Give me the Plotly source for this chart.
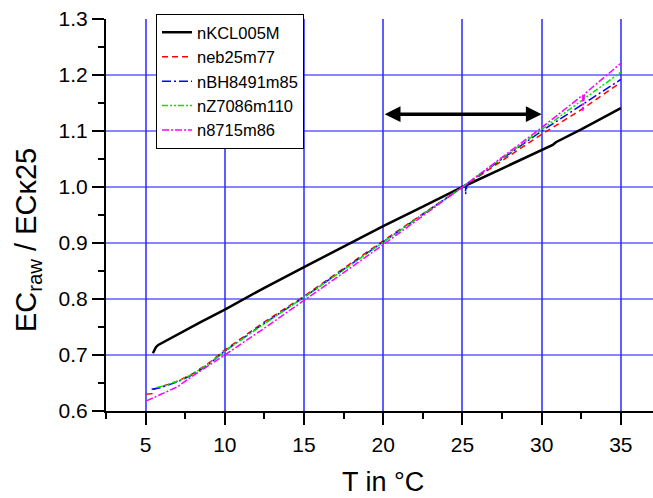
import plotly.graph_objects as go

# ---- data ----
kcl_T = [5.46, 5.55, 5.65, 5.8, 6.5, 7.5, 8.5, 10, 12.5, 15, 17.5, 20, 22.5, 25, 27.5, 30, 30.7, 30.9, 32.5, 35]
kcl_v = [0.703, 0.710, 0.714, 0.718, 0.729, 0.744, 0.759, 0.781, 0.820, 0.857, 0.894, 0.930, 0.965, 1.000, 1.033, 1.066, 1.075, 1.080, 1.103, 1.141]

neb_T = [5.05, 5.4, 5.45, 6, 7, 8, 9, 10, 12.5, 15, 17.5, 20, 22.5, 25, 27.5, 30, 32.5, 34.8]
neb_v = [0.630, 0.631, 0.638, 0.643, 0.653, 0.667, 0.686, 0.709, 0.759, 0.805, 0.855, 0.904, 0.952, 1.000, 1.047, 1.094, 1.138, 1.183]

nbh_T = [5.38, 5.7, 6, 7, 8, 9, 10, 12.5, 15, 17.5, 20, 22.5, 25, 25.2, 25.2, 25.3, 27.5, 30, 32.5, 35]
nbh_v = [0.639, 0.640, 0.642, 0.652, 0.665, 0.684, 0.707, 0.757, 0.803, 0.853, 0.902, 0.951, 1.000, 1.004, 0.987, 1.006, 1.050, 1.100, 1.146, 1.192]

nz_T = [5.7, 6, 7, 8, 9, 10, 12.5, 15, 17.5, 20, 22.5, 25, 27.5, 30, 32.5, 35]
nz_v = [0.642, 0.644, 0.653, 0.666, 0.685, 0.707, 0.756, 0.803, 0.852, 0.902, 0.951, 1.000, 1.051, 1.102, 1.153, 1.205]

n87_T = [5.05, 6, 7, 8, 9, 10, 12.5, 15, 17.5, 20, 22.5, 25, 27.5, 30, 32.5, 32.6, 32.6, 32.7, 35]
n87_v = [0.618, 0.630, 0.643, 0.663, 0.681, 0.700, 0.748, 0.797, 0.847, 0.897, 0.948, 1.000, 1.053, 1.106, 1.162, 1.164, 1.136, 1.166, 1.221]

arrow_T = [20, 30]
arrow_v = 1.13

x_tick_vals = [5, 10, 15, 20, 25, 30, 35]
y_tick_vals = [0.6, 0.7, 0.8, 0.9, 1.0, 1.1, 1.2, 1.3]
y_grid_vals = [0.7, 0.8, 0.9, 1.0, 1.1, 1.2]

FONT = "Liberation Sans, Arial, sans-serif"

series = [
    ("nKCL005M", kcl_T, kcl_v, "#000000", "solid", 2.5),
    ("neb25m77", neb_T, neb_v, "#ff0000", "6px,4px", 1.5),
    ("nBH8491m85", nbh_T, nbh_v, "#0000ff", "9px,3px,2px,3px", 1.5),
    ("nZ7086m110", nz_T, nz_v, "#00e600", "6px,2px,2px,2px,2px,2px", 1.5),
    ("n8715m86", n87_T, n87_v, "#ff00ff", "7px,2px,2px,2px", 1.5),
]

W, H = 653, 498
L, R, T, B = 106, 0, 19, 87
pw, ph = W - L - R, H - T - B

fig = go.Figure()
for name, xs, ys, col, dash, w in series:
    fig.add_trace(go.Scatter(x=xs, y=ys, mode="lines", name=name,
                             line=dict(color=col, dash=dash, width=w)))

grid_col = "rgba(40,40,255,0.75)"
for gy in y_grid_vals:
    fig.add_shape(type="line", xref="paper", yref="y", x0=0, x1=1, y0=gy, y1=gy,
                  line=dict(color=grid_col, width=1.5), layer="below")

fig.add_annotation(x=arrow_T[1], y=arrow_v, ax=arrow_T[0], ay=arrow_v,
                   xref="x", yref="y", axref="x", ayref="y",
                   text="", showarrow=True, arrowhead=2, startarrowhead=2,
                   arrowside="end+start", arrowwidth=3.5, arrowsize=0.9,
                   startarrowsize=0.9, arrowcolor="black")

fig.add_annotation(text="EC<sub>raw</sub> / ECκ25", textangle=-90,
                   x=(28 - L) / pw, y=(H - B - 240) / ph,
                   xref="paper", yref="paper", xanchor="center", yanchor="middle",
                   showarrow=False,
                   font=dict(family=FONT, size=29, color="black"))
fig.add_annotation(text="T in °C", x=(383 - L) / pw, y=(H - B - 482) / ph,
                   xref="paper", yref="paper", xanchor="center", yanchor="middle",
                   showarrow=False,
                   font=dict(family=FONT, size=27, color="black"))

fig.update_layout(
    width=W, height=H,
    margin=dict(l=L, r=R, t=T, b=B, autoexpand=False),
    paper_bgcolor="white", plot_bgcolor="white",
    showlegend=True,
    legend=dict(x=(156 - L) / pw, y=1 + 5 / ph, xanchor="left", yanchor="top",
                bgcolor="white", bordercolor="black", borderwidth=1,
                font=dict(family=FONT, size=16.5, color="black"),
                tracegroupgap=0, itemwidth=30),
    xaxis=dict(range=[2.5, 37.03], tickvals=x_tick_vals,
               showline=True, linecolor="black", linewidth=2,
               ticks="outside", ticklen=12, tickwidth=2, tickcolor="black",
               minor=dict(dtick=2.5, tick0=2.5, ticks="outside", ticklen=6,
                          tickwidth=2, tickcolor="black", showgrid=False),
               showgrid=True, gridcolor=grid_col, gridwidth=1.5,
               zeroline=False, ticklabelstandoff=2,
               tickfont=dict(family=FONT, size=21, color="black")),
    yaxis=dict(range=[0.6, 1.3], tickvals=y_tick_vals, tickformat=".1f",
               showline=True, linecolor="black", linewidth=2,
               ticks="outside", ticklen=12, tickwidth=2, tickcolor="black",
               minor=dict(dtick=0.05, tick0=0.6, ticks="outside", ticklen=6,
                          tickwidth=2, tickcolor="black", showgrid=False),
               showgrid=False, zeroline=False,
               tickfont=dict(family=FONT, size=21, color="black")),
)

fig.write_html("out.html")
